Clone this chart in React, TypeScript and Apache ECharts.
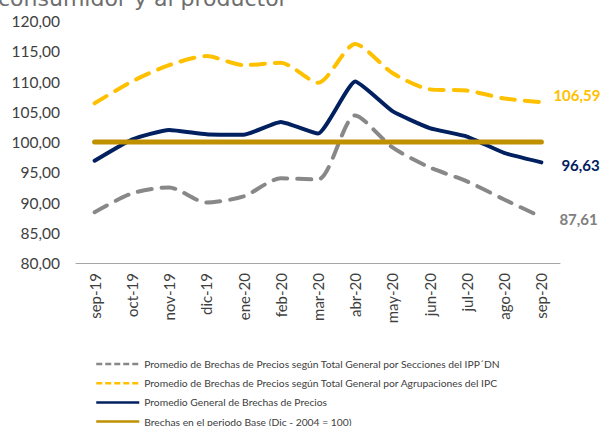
import React, { useEffect, useRef } from "react";
import * as echarts from "echarts";

const categories = ["sep-19", "oct-19", "nov-19", "dic-19", "ene-20", "feb-20", "mar-20", "abr-20", "may-20", "jun-20", "jul-20", "ago-20", "sep-20"];
const ippValues = [88.4, 91.5, 92.5, 90.0, 91.0, 94.0, 93.8, 104.4, 99.1, 95.8, 93.5, 90.5, 87.61];
const ipcValues = [106.4, 110.0, 112.7, 114.2, 112.7, 113.1, 109.8, 116.2, 111.4, 108.7, 108.5, 107.2, 106.59];
const generalValues = [96.9, 100.4, 102.0, 101.3, 101.2, 103.3, 101.4, 110.0, 105.1, 102.3, 100.9, 98.2, 96.63];
const baseValues = [100, 100, 100, 100, 100, 100, 100, 100, 100, 100, 100, 100, 100];
const seriesNames = [
  "Promedio de Brechas de Precios según Total General por Secciones del IPP´DN",
  "Promedio de Brechas de Precios según Total General por Agrupaciones del IPC",
  "Promedio General de Brechas de Precios",
  "Brechas en el periodo Base (Dic - 2004 = 100)",
];
const titleText = "consumidor y al productor";

const FONT = "Lato";
const fmt = (v: number) => v.toFixed(2).replace(".", ",");

function endLabel(color: string, distance: number, offset: number[]) {
  return {
    show: true,
    distance,
    offset,
    formatter: (p: any) => fmt(Array.isArray(p.value) ? p.value[1] : p.value),
    color,
    fontFamily: FONT,
    fontWeight: "bold",
    fontSize: 15,
  };
}

export default function App() {
  const ref = useRef<HTMLDivElement>(null);
  useEffect(() => {
    document.body.style.margin = "0";
    const chart = echarts.init(ref.current!, null, { renderer: "svg" });
    const legendLine = (dashed: boolean) => ({
      width: 2.5,
      cap: "butt",
      type: dashed ? [6, 3] : "solid",
    });
    const option: any = {
      animation: false,
      backgroundColor: "#ffffff",
      textStyle: { fontFamily: FONT },
      graphic: [
        {
          type: "text",
          left: -2,
          top: -13,
          style: { text: titleText, font: `22px "DejaVu Sans"`, fill: "#6e6e6e" },
        },
      ],
      grid: { left: 76, right: 47, top: 21, bottom: 163 },
      legend: {
        orient: "vertical",
        left: 90,
        top: 354,
        height: 100,
        itemWidth: 43,
        itemHeight: 10,
        itemGap: 9.2,
        itemStyle: { opacity: 0 },
        textStyle: { fontFamily: FONT, fontSize: 10.3, color: "#404040" },
        data: [
          { name: seriesNames[0], lineStyle: legendLine(true) },
          { name: seriesNames[1], lineStyle: legendLine(true) },
          { name: seriesNames[2], lineStyle: legendLine(false) },
          { name: seriesNames[3], lineStyle: legendLine(false) },
        ],
      },
      xAxis: {
        type: "category",
        data: categories,
        boundaryGap: true,
        axisLine: { lineStyle: { color: "#a6a6a6", width: 1 } },
        axisTick: { show: false },
        axisLabel: { rotate: 90, margin: 10, fontSize: 15, color: "#404040", fontFamily: FONT },
      },
      yAxis: {
        type: "value",
        min: 80,
        max: 120,
        interval: 5,
        axisLine: { show: false },
        axisTick: { show: false },
        splitLine: { show: false },
        axisLabel: { margin: 16, fontSize: 15.5, color: "#404040", fontFamily: FONT, formatter: (v: number) => fmt(v) },
      },
      series: [
        {
          name: seriesNames[0],
          type: "line",
          data: ippValues,
          smooth: 0.25,
          symbol: "none",
          lineStyle: { color: "#888888", width: 4, type: [14, 10], cap: "round" },
          itemStyle: { color: "#888888" },
          endLabel: endLabel("#808080", 18, [0, 2]),
        },
        {
          name: seriesNames[1],
          type: "line",
          data: ipcValues,
          smooth: 0.25,
          symbol: "none",
          lineStyle: { color: "#FFC000", width: 4, type: [14, 10], cap: "round" },
          itemStyle: { color: "#FFC000" },
          endLabel: endLabel("#FFC000", 12, [0, -7]),
        },
        {
          name: seriesNames[2],
          type: "line",
          data: generalValues,
          smooth: 0.15,
          symbol: "none",
          lineStyle: { color: "#002060", width: 4, cap: "round", join: "round" },
          itemStyle: { color: "#002060" },
          endLabel: endLabel("#002060", 20, [0, 3]),
        },
        {
          name: seriesNames[3],
          type: "line",
          data: baseValues,
          symbol: "none",
          lineStyle: { color: "#BF9000", width: 5, cap: "round" },
          itemStyle: { color: "#BF9000" },
        },
      ],
    };
    chart.setOption(option);
    return () => chart.dispose();
  }, []);
  return <div ref={ref} style={{ width: 607, height: 426 }} />;
}
